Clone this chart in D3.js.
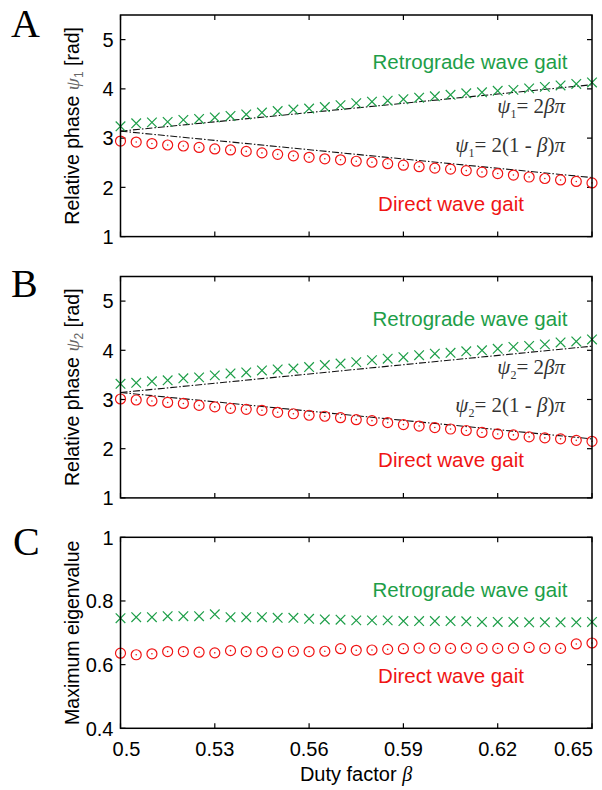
<!DOCTYPE html>
<html>
<head>
<meta charset="utf-8">
<script src="https://cdn.jsdelivr.net/npm/d3@7"></script>
<style>
  body { margin: 0; background: #fff; }
  svg { display: block; }
  .sans { font-family: "Liberation Sans", Arial, sans-serif; }
  .serif { font-family: "Liberation Serif", "Times New Roman", serif; }
</style>
</head>
<body>
<div id="chart"></div>
<script>
// duty factor beta (x values of every marker)
const dutyFactor = [0.500, 0.505, 0.510, 0.515, 0.520, 0.525, 0.530, 0.535, 0.540, 0.545,
  0.550, 0.555, 0.560, 0.565, 0.570, 0.575, 0.580, 0.585, 0.590, 0.595,
  0.600, 0.605, 0.610, 0.615, 0.620, 0.625, 0.630, 0.635, 0.640, 0.645, 0.650]
const xTicks = [0.5, 0.53, 0.56, 0.59, 0.62, 0.65]
const phaseTicks = [1, 2, 3, 4, 5]
const eigenTicks = [0.4, 0.6, 0.8, 1]

// panel A: relative phase psi1
const retroA = [3.24, 3.30, 3.32, 3.33, 3.37, 3.39, 3.42, 3.45, 3.48, 3.52,
  3.55, 3.58, 3.60, 3.63, 3.67, 3.71, 3.74, 3.76, 3.79, 3.82,
  3.85, 3.88, 3.91, 3.93, 3.96, 3.98, 4.01, 4.04, 4.07, 4.10, 4.13]
const directA = [2.94, 2.92, 2.89, 2.86, 2.84, 2.81, 2.78, 2.76, 2.73, 2.70,
  2.67, 2.64, 2.61, 2.58, 2.56, 2.53, 2.51, 2.48, 2.45, 2.42,
  2.39, 2.37, 2.34, 2.31, 2.28, 2.25, 2.21, 2.18, 2.15, 2.12, 2.09]
// panel B: relative phase psi2
const retroB = [3.32, 3.34, 3.37, 3.39, 3.43, 3.45, 3.49, 3.53, 3.55, 3.59,
  3.61, 3.63, 3.66, 3.70, 3.73, 3.76, 3.80, 3.83, 3.86, 3.90,
  3.93, 3.95, 3.98, 4.00, 4.03, 4.07, 4.09, 4.12, 4.16, 4.18, 4.22]
const directB = [3.01, 2.99, 2.97, 2.94, 2.92, 2.88, 2.85, 2.82, 2.80, 2.78,
  2.74, 2.71, 2.68, 2.66, 2.63, 2.59, 2.57, 2.53, 2.49, 2.46,
  2.43, 2.40, 2.37, 2.33, 2.30, 2.28, 2.24, 2.22, 2.20, 2.17, 2.15]
// panel C: maximum eigenvalue
const retroC = [0.746, 0.749, 0.749, 0.752, 0.752, 0.752, 0.758, 0.749, 0.749, 0.749,
  0.747, 0.747, 0.744, 0.742, 0.741, 0.739, 0.739, 0.739, 0.737, 0.737,
  0.737, 0.737, 0.736, 0.734, 0.734, 0.734, 0.733, 0.733, 0.733, 0.733, 0.734]
const directC = [0.636, 0.631, 0.634, 0.641, 0.641, 0.639, 0.637, 0.644, 0.641, 0.641,
  0.639, 0.642, 0.641, 0.642, 0.650, 0.645, 0.646, 0.648, 0.650, 0.652,
  0.651, 0.651, 0.652, 0.651, 0.651, 0.652, 0.654, 0.651, 0.651, 0.665, 0.668]

const GREEN = '#1d9e48'
const RED = '#f01414'

const svg = d3.select('#chart').append('svg')
  .attr('width', 602)
  .attr('height', 790)

const x = d3.scaleLinear().domain([0.5, 0.65]).range([120.5, 592])

// psi = 2 beta pi and psi = 2 (1 - beta) pi, drawn over the beta range
const theoryBeta = x.domain()
const retroTheory = b => 2 * b * Math.PI
const directTheory = b => 2 * (1 - b) * Math.PI

function drawPanel (p) {
  const y = d3.scaleLinear().domain(p.yDomain).range(p.yRange)
  const g = svg.append('g')
  const x0 = x.range()[0]
  const x1 = x.range()[1]
  const yTop = p.yRange[1]
  const yBot = p.yRange[0]

  // ticks (inner, mirrored on all sides)
  const tl = 5
  p.yTicks.forEach(t => {
    g.append('line').attr('x1', x0).attr('x2', x0 + tl).attr('y1', y(t)).attr('y2', y(t))
      .attr('stroke', '#000').attr('stroke-width', 1.2)
    g.append('line').attr('x1', x1).attr('x2', x1 - tl).attr('y1', y(t)).attr('y2', y(t))
      .attr('stroke', '#000').attr('stroke-width', 1.2)
    g.append('text').attr('class', 'sans')
      .attr('x', x0 - 7).attr('y', y(t)).attr('dy', '0.36em')
      .attr('text-anchor', 'end').attr('font-size', 20)
      .text(t)
  })
  xTicks.forEach((t, i) => {
    g.append('line').attr('x1', x(t)).attr('x2', x(t)).attr('y1', yTop).attr('y2', yTop + tl)
      .attr('stroke', '#000').attr('stroke-width', 1.2)
    g.append('line').attr('x1', x(t)).attr('x2', x(t)).attr('y1', yBot).attr('y2', yBot - tl)
      .attr('stroke', '#000').attr('stroke-width', 1.2)
    if (p.xLabels) {
      // edge labels are pulled inside the frame
      const first = i === 0
      const last = i === xTicks.length - 1
      g.append('text').attr('class', 'sans')
        .attr('x', first ? x(t) + 6 : last ? x(t) + 1 : x(t)).attr('y', yBot + 28)
        .attr('text-anchor', last ? 'end' : 'middle').attr('font-size', 20)
        .text(t)
    }
  })

  // theory lines
  if (p.theory) {
    const line = d3.line().x(d => x(d[0])).y(d => y(d[1]))
    ;[retroTheory, directTheory].forEach(f => {
      g.append('path')
        .attr('d', line(theoryBeta.map(b => [b, f(b)])))
        .attr('fill', 'none').attr('stroke', '#111').attr('stroke-width', 1.1)
        .attr('stroke-dasharray', '7,2,1.5,2')
    })
  }

  // direct wave gait: circles with a dot
  const circ = g.append('g').selectAll('g').data(p.direct).enter().append('g')
    .attr('transform', (d, i) => `translate(${x(dutyFactor[i])},${y(d)})`)
  circ.append('circle').attr('r', 5).attr('fill', 'none')
    .attr('stroke', RED).attr('stroke-width', 1.2)
  circ.append('circle').attr('r', 0.8).attr('fill', RED)

  // retrograde wave gait: crosses
  const s = 4.8
  g.append('g').selectAll('path').data(p.retro).enter().append('path')
    .attr('d', (d, i) => {
      const cx = x(dutyFactor[i])
      const cy = y(d)
      return `M${cx - s},${cy - s}L${cx + s},${cy + s}M${cx - s},${cy + s}L${cx + s},${cy - s}`
    })
    .attr('stroke', GREEN).attr('stroke-width', 1.2).attr('fill', 'none')

  // frame
  g.append('rect').attr('x', x0).attr('y', yTop).attr('width', x1 - x0).attr('height', yBot - yTop)
    .attr('fill', 'none').attr('stroke', '#000').attr('stroke-width', 1.5)

  // panel letter
  g.append('text').attr('class', 'serif')
    .attr('x', p.letterX).attr('y', p.letterY)
    .attr('font-size', 40).text(p.letter)

  // y axis title
  const yt = g.append('text').attr('class', 'sans')
    .attr('transform', `translate(79,${(yTop + yBot) / 2}) rotate(-90)`)
    .attr('text-anchor', 'middle').attr('font-size', 19.5)
  if (p.psi) {
    yt.append('tspan').text('Relative phase  ')
    yt.append('tspan').attr('class', 'serif').attr('font-style', 'italic').attr('fill', '#666').text('ψ')
    yt.append('tspan').attr('font-size', 12).attr('dy', 4).attr('fill', '#666').text(p.psi)
    yt.append('tspan').attr('dy', -4).text('  [rad]')
  } else {
    yt.text(p.yTitle)
  }

  // annotations
  g.append('text').attr('class', 'sans').attr('fill', GREEN)
    .attr('x', 470).attr('y', p.retroLabelY).attr('text-anchor', 'middle')
    .attr('font-size', 20.5).text('Retrograde wave gait')
  g.append('text').attr('class', 'sans').attr('fill', RED)
    .attr('x', 451).attr('y', p.directLabelY).attr('text-anchor', 'middle')
    .attr('font-size', 20.5).text('Direct wave gait')

  if (p.theory) {
    const eq = (yy, rest) => {
      const t = g.append('text').attr('class', 'serif').attr('fill', '#333')
        .attr('x', 565).attr('y', yy).attr('text-anchor', 'end').attr('font-size', 21)
      t.append('tspan').attr('font-style', 'italic').text('ψ')
      t.append('tspan').attr('font-size', 12).attr('dy', 5).text(p.psi)
      t.append('tspan').attr('dy', -5).text('= ')
      rest.forEach(r => {
        t.append('tspan').attr('font-style', r[1] ? 'italic' : 'normal').text(r[0])
      })
    }
    eq(p.eq1Y, [['2', false], ['β', true], ['π', true]])
    eq(p.eq2Y, [['2(1 - ', false], ['β', true], [')', false], ['π', true]])
  }
}

drawPanel({
  letter: 'A', letterX: 11, letterY: 37,
  yDomain: [1, 5.5], yRange: [236.6, 15], yTicks: phaseTicks,
  retro: retroA, direct: directA, theory: true, psi: '1',
  retroLabelY: 69, directLabelY: 211, eq1Y: 113, eq2Y: 152
})
drawPanel({
  letter: 'B', letterX: 11, letterY: 297,
  yDomain: [1, 5.5], yRange: [497.9, 276.5], yTicks: phaseTicks,
  retro: retroB, direct: directB, theory: true, psi: '2',
  retroLabelY: 326, directLabelY: 467, eq1Y: 374, eq2Y: 412
})
drawPanel({
  letter: 'C', letterX: 13, letterY: 555,
  yDomain: [0.4, 1], yRange: [728.3, 537.3], yTicks: eigenTicks,
  retro: retroC, direct: directC, theory: false, yTitle: 'Maximum eigenvalue',
  retroLabelY: 597, directLabelY: 683, xLabels: true
})

// x axis title
const xt = svg.append('text').attr('class', 'sans')
  .attr('x', 356).attr('y', 781).attr('text-anchor', 'middle').attr('font-size', 20)
xt.append('tspan').text('Duty factor  ')
xt.append('tspan').attr('class', 'serif').attr('font-style', 'italic').text('β')
</script>
</body>
</html>
